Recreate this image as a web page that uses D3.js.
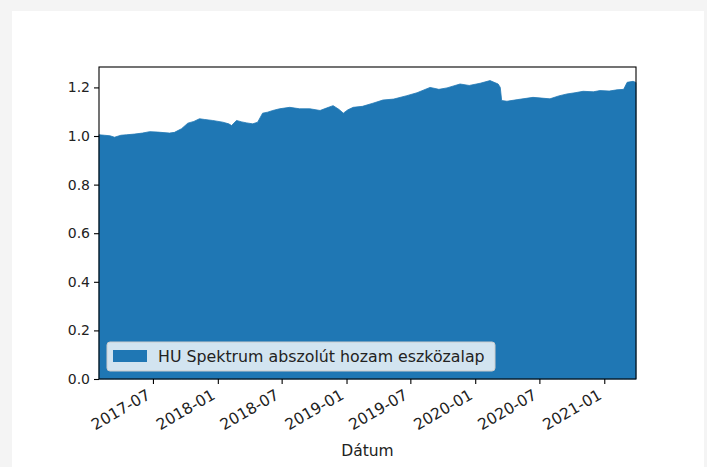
<!DOCTYPE html>
<html>
<head>
<meta charset="utf-8">
<script src="https://cdn.jsdelivr.net/npm/d3@7"></script>
<style>
  html, body { margin: 0; padding: 0; background: #f4f4f4; }
  #card { position: absolute; left: 12px; top: 11px; width: 692px; height: 456px; background: #fff; }
  svg { position: absolute; left: 0; top: 0; }
</style>
</head>
<body>
<div id="card"></div>
<svg id="chart" width="707" height="467"></svg>
<script>
// Fund value (net asset value index)
const dates = [
    "2017-01-29", "2017-02-14", "2017-03-01", "2017-03-14", "2017-04-01", "2017-04-17",
    "2017-05-10", "2017-06-01", "2017-06-22", "2017-07-15", "2017-08-17", "2017-08-31",
    "2017-09-20", "2017-10-08", "2017-10-25", "2017-11-10", "2017-11-25", "2017-12-17",
    "2018-01-15", "2018-02-01", "2018-02-09", "2018-02-23", "2018-03-10", "2018-03-24",
    "2018-04-10", "2018-04-24", "2018-05-08", "2018-05-22", "2018-06-06", "2018-06-25",
    "2018-07-24", "2018-08-21", "2018-09-19", "2018-10-18", "2018-11-05", "2018-11-24",
    "2018-12-10", "2018-12-23", "2019-01-05", "2019-01-20", "2019-02-15", "2019-03-17",
    "2019-04-14", "2019-05-15", "2019-06-21", "2019-07-20", "2019-08-26", "2019-09-20",
    "2019-10-13", "2019-11-19", "2019-12-15", "2020-01-15", "2020-02-12", "2020-03-06",
    "2020-03-12", "2020-03-16", "2020-03-31", "2020-05-01", "2020-06-13", "2020-07-31",
    "2020-08-25", "2020-09-17", "2020-10-10", "2020-11-02", "2020-12-01", "2020-12-20",
    "2021-01-15", "2021-02-06", "2021-02-25", "2021-03-07", "2021-03-24", "2021-04-01"
];
const values = [
    1.005, 1.003, 1.001, 0.995, 1.003, 1.005,
    1.008, 1.012, 1.018, 1.016, 1.012, 1.015,
    1.030, 1.053, 1.060, 1.071, 1.068, 1.064,
    1.057, 1.050, 1.043, 1.064, 1.058, 1.054,
    1.050, 1.057, 1.094, 1.098, 1.105, 1.112,
    1.118, 1.112, 1.112, 1.105, 1.115, 1.125,
    1.110, 1.094, 1.108, 1.118, 1.122, 1.135,
    1.148, 1.152, 1.166, 1.178, 1.200, 1.192,
    1.198, 1.214, 1.208, 1.217, 1.228, 1.214,
    1.200, 1.146, 1.143, 1.150, 1.159, 1.153,
    1.165, 1.173, 1.178, 1.184, 1.182, 1.187,
    1.185, 1.190, 1.192, 1.221, 1.225, 1.220
];
const yTicks = [0.0, 0.2, 0.4, 0.6, 0.8, 1.0, 1.2];
const xTicks = ["2017-07-01", "2018-01-01", "2018-07-01", "2019-01-01",
                "2019-07-01", "2020-01-01", "2020-07-01", "2021-01-01"];
const seriesName = "HU Spektrum abszolút hozam eszközalap";
const xLabel = "Dátum";

const parse = d3.timeParse("%Y-%m-%d");
const data = dates.map((d, i) => ({ date: parse(d), value: values[i] }));

const svg = d3.select("#chart");
const margin = { left: 99, top: 67, right: 707 - 636, bottom: 467 - 379 };
const innerWidth = 707 - margin.left - margin.right;
const innerHeight = 467 - margin.top - margin.bottom;
const font = "'DejaVu Sans', sans-serif";
const blue = "#1f77b4";

const xScale = d3.scaleTime()
    .domain(d3.extent(data, (d) => d.date))
    .range([0, innerWidth]);
const yScale = d3.scaleLinear()
    .domain([0, 1.284])
    .range([innerHeight, 0]);

const g = svg.append("g")
    .attr("transform", `translate(${margin.left},${margin.top})`);

// Filled area
const area = d3.area()
    .x((d) => xScale(d.date))
    .y0(yScale(0))
    .y1((d) => yScale(d.value));
g.append("path")
    .datum(data)
    .attr("fill", blue)
    .attr("stroke", blue)
    .attr("stroke-width", 0.8)
    .attr("d", area);

// Y axis
const yAxisG = g.append("g").call(
    d3.axisLeft(yScale)
        .tickValues(yTicks)
        .tickSize(5)
        .tickPadding(4)
        .tickFormat(d3.format(".1f"))
);
yAxisG.select(".domain").remove();
yAxisG.selectAll(".tick line").attr("stroke", "#000").attr("stroke-width", 1.1);
yAxisG.selectAll("text")
    .style("font-family", font)
    .style("font-size", "14px")
    .style("fill", "#222");

// X axis with rotated labels
const xAxisG = g.append("g")
    .attr("transform", `translate(0,${innerHeight})`)
    .call(
        d3.axisBottom(xScale)
            .tickValues(xTicks.map(parse))
            .tickSize(5)
            .tickFormat(d3.timeFormat("%Y-%m"))
    );
xAxisG.select(".domain").remove();
xAxisG.selectAll(".tick line").attr("stroke", "#000").attr("stroke-width", 1.1);
xAxisG.selectAll("text")
    .attr("text-anchor", "end")
    .attr("dy", null)
    .attr("y", 0)
    .attr("transform", "translate(-2,19) rotate(-30)")
    .style("font-family", font)
    .style("font-size", "15.5px")
    .style("fill", "#222");

// Frame (spines)
g.append("rect")
    .attr("x", 0).attr("y", 0)
    .attr("width", innerWidth).attr("height", innerHeight)
    .attr("fill", "none")
    .attr("stroke", "#000")
    .attr("stroke-width", 1.1);

// X axis title
g.append("text")
    .attr("x", innerWidth / 2)
    .attr("y", innerHeight + 77)
    .attr("text-anchor", "middle")
    .text(xLabel)
    .style("font-family", font)
    .style("font-size", "15.5px")
    .style("fill", "#222");

// Legend (bottom-left)
const legend = g.append("g")
    .attr("transform", `translate(8, ${innerHeight - 37})`);
legend.append("rect")
    .attr("x", 0).attr("y", 0)
    .attr("width", 388).attr("height", 29)
    .attr("rx", 3)
    .attr("fill", "rgba(255,255,255,0.8)")
    .attr("stroke", "#cccccc")
    .attr("stroke-width", 1);
legend.append("rect")
    .attr("x", 6).attr("y", 8)
    .attr("width", 34).attr("height", 12)
    .attr("fill", blue);
legend.append("text")
    .attr("x", 51).attr("y", 20)
    .text(seriesName)
    .style("font-family", font)
    .style("font-size", "15.8px")
    .style("fill", "#222");
</script>
</body>
</html>
